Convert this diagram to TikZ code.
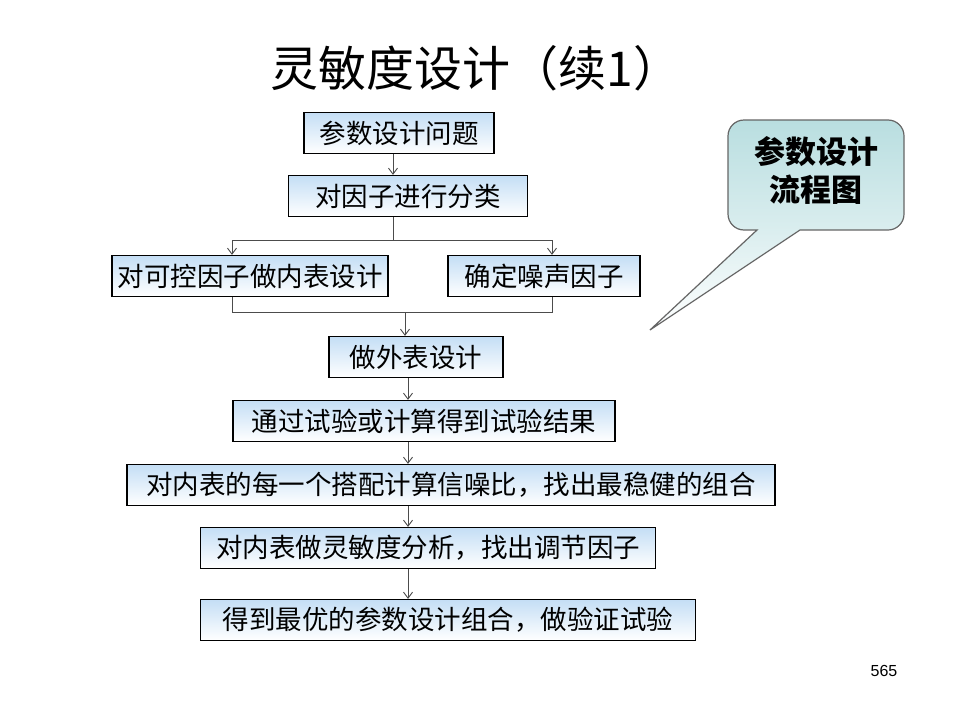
\documentclass[tikz,border=0pt]{standalone}
\usepackage{fontspec}
\usepackage{xcolor}
\usetikzlibrary{arrows.meta}
\newfontfamily\cjk{Noto Sans CJK SC}
\newfontfamily\pnumfont{Liberation Sans}
\definecolor{boxtop}{HTML}{C4DEF5}
\definecolor{notetop}{HTML}{B9DEE0}

\begin{document}
\begin{tikzpicture}[x=1pt,y=1pt, every node/.style={font=\cjk\fontsize{26.5}{30}\selectfont},
  stepbox/.style={draw=black,line width=1.2pt,top color=boxtop,bottom color=white,minimum height=41pt,inner sep=0pt},
  conn/.style={draw=black!70,line width=.9pt},
  flow/.style={conn,-{Straight Barb[length=6pt,width=9pt]}}]
  \useasboundingbox[fill=white] (0,0) rectangle (960,-720);
  \node[font=\cjk\fontsize{48}{52}\selectfont] (title) at (476,-68) {灵敏度设计（续1）};
  \foreach \n/\x/\y/\w/\t in {b1/399/133/190/参数设计问题,b2/408/196/239/对因子进行分类,
      b3/250/276/276/对可控因子做内表设计,b4/544/276/192/确定噪声因子,b5/416/357/174/做外表设计,
      b6/424/421/382/通过试验或计算得到试验结果,b7/451/485/648/对内表的每一个搭配计算信噪比，找出最稳健的组合,
      b8/428/548/455/对内表做灵敏度分析，找出调节因子,b9/448/620/495/得到最优的参数设计组合，做验证试验}
    \node[stepbox,minimum width=\w pt] (\n) at (\x,-\y) {\t};
  % split and merge
  \coordinate (c1) at (393,0);
  \coordinate (sl) at (232,-240); \coordinate (sr) at (552,-240);
  \coordinate (ml) at (232,-312); \coordinate (mr) at (552,-312);
  \coordinate (mm) at (405,-312);
  \coordinate (c2) at (408,0);
  \draw[flow] (c1 |- b1.south) -- (c1 |- b2.north);
  \draw[conn] (c1 |- b2.south) -- (c1 |- sl);
  \draw[conn] (sl) -- (sr);
  \draw[flow] (sl) -- (sl |- b3.north);
  \draw[flow] (sr) -- (sr |- b4.north);
  \draw[conn] (sl |- b3.south) -- (ml) -- (mr) -- (sr |- b4.south);
  \draw[flow] (mm) -- (mm |- b5.north);
  \foreach \a/\b in {b5/b6,b6/b7,b7/b8,b8/b9}
    \draw[flow] (c2 |- \a.south) -- (c2 |- \b.north);
  % callout
  \draw[black!60,line width=1.2pt,top color=notetop,bottom color=white,middle color=notetop!55]
    (650,-330) -- (757,-230) [rounded corners=16] -- (728,-230) -- (728,-120) -- (904,-120) -- (904,-230)
    [sharp corners] -- (800,-230) -- cycle;
  \node[font=\cjk\bfseries\fontsize{31}{38}\selectfont,align=center] (note) at (816,-170) {参数设计\\流程图};
  \node[font=\pnumfont\fontsize{16}{18}\selectfont] (pg) at (884,-671) {565};
\end{tikzpicture}
\end{document}
